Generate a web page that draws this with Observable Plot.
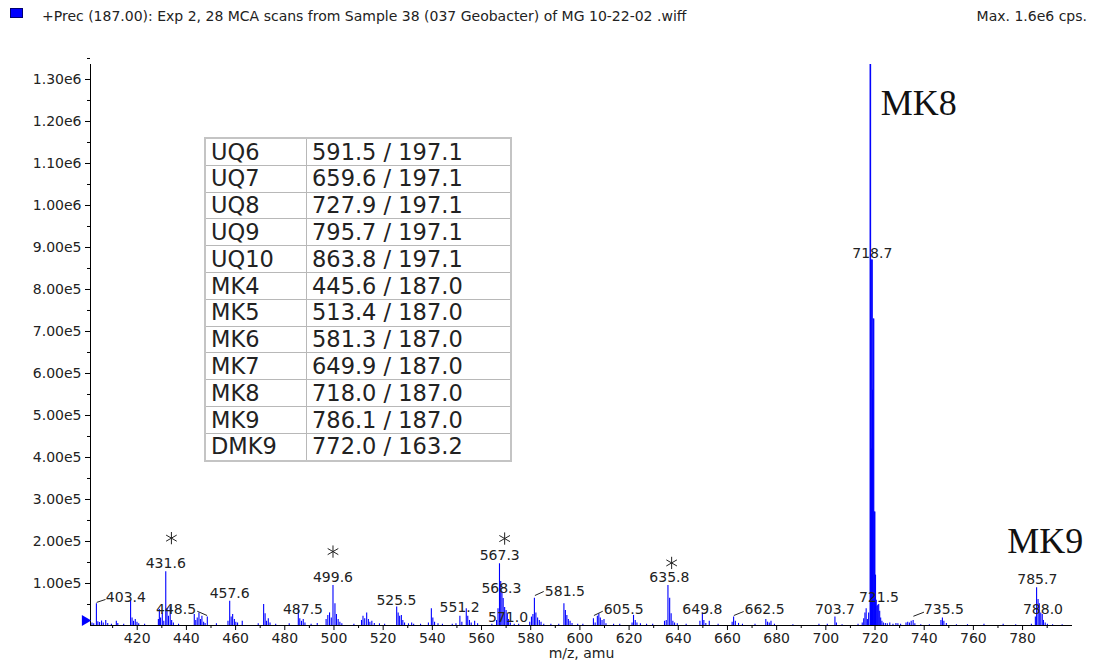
<!DOCTYPE html>
<html>
<head>
<meta charset="utf-8">
<script src="https://cdn.jsdelivr.net/npm/d3@7"></script>
<script src="https://cdn.jsdelivr.net/npm/@observablehq/plot@0.6"></script>
<style>
  body { margin: 0; background: #fff; font-family: "DejaVu Sans", sans-serif; color: #222; }
  #wrap { position: relative; width: 1093px; height: 664px; overflow: hidden; }
  #head { position: absolute; left: 0; top: 0; width: 1093px; height: 30px; font-size: 14px; }
  #swatch { position: absolute; left: 10px; top: 8px; width: 11px; height: 8px; background: #0000ff; border: 1px solid #000070; }
  #title { position: absolute; left: 42px; top: 8px; white-space: nowrap; }
  #max { position: absolute; right: 6px; top: 8px; white-space: nowrap; }
  #chart { position: absolute; left: 0; top: 30px; }
  #mrm { position: absolute; left: 204px; top: 137px; border-collapse: collapse; border: 2px solid #c4c4c4;
         font-size: 22.5px; background: #fff; }
  #mrm td { border: 1px solid #b8b8b8; padding: 0 0 0 5px; height: 25.8px; line-height: 1; white-space: nowrap; }
  #mrm td.c1 { width: 95px; }
  #mrm td.c2 { width: 198px; }
</style>
</head>
<body>
<div id="wrap">
  <div id="head">
    <div id="swatch"></div>
    <div id="title"></div>
    <div id="max"></div>
  </div>
  <div id="chart"></div>
  <table id="mrm"></table>
</div>
<script>
// Experiment header
const headerText = "+Prec (187.00): Exp 2, 28 MCA scans from Sample 38 (037 Geobacter) of MG 10-22-02 .wiff";
const maxText = "Max. 1.6e6 cps.";

// Quinone / menaquinone transitions (precursor / product)
const compounds = ["UQ6", "UQ7", "UQ8", "UQ9", "UQ10", "MK4", "MK5", "MK6", "MK7", "MK8", "MK9", "DMK9"];
const transitions = ["591.5 / 197.1", "659.6 / 197.1", "727.9 / 197.1", "795.7 / 197.1", "863.8 / 197.1",
  "445.6 / 187.0", "513.4 / 187.0", "581.3 / 187.0", "649.9 / 187.0", "718.0 / 187.0", "786.1 / 187.0", "772.0 / 163.2"];

// Spectrum sticks: [m/z, counts per second]
const sticks = [
  [401.6, 6000], [402.3, 4000], [403.4, 52000], [404.0, 9000], [404.7, 7000], [405.5, 11000], [406.2, 6000],
  [407.2, 12000], [408.0, 5000], [409.5, 3000], [411.5, 10000], [412.1, 5000], [414.5, 3000],
  [417.3, 58000], [417.9, 18000], [418.5, 10000], [419.2, 14000], [419.9, 8000], [420.6, 4000], [423.0, 3000],
  [428.6, 14000], [429.0, 38000], [429.5, 18000], [430.2, 30000], [430.8, 10000], [431.6, 128000],
  [432.1, 40000], [432.7, 22000], [433.4, 44000], [434.0, 12000], [434.7, 6000], [436.8, 3000],
  [443.2, 26000], [443.8, 12000], [444.4, 18000], [445.1, 30000], [445.7, 14000], [446.3, 22000],
  [447.0, 8000], [447.6, 5000], [448.5, 20000], [452.2, 4000],
  [456.9, 10000], [457.6, 58000], [458.2, 20000], [458.8, 26000], [459.5, 14000], [460.1, 8000],
  [460.8, 6000], [462.7, 10000], [469.2, 4000],
  [471.4, 50000], [472.0, 28000], [472.6, 10000], [473.3, 16000], [474.0, 6000], [476.3, 3000], [481.8, 4000],
  [485.5, 40000], [486.1, 16000], [486.8, 10000], [487.5, 14000], [488.2, 6000], [490.7, 3000], [493.2, 5000],
  [496.8, 14000], [497.5, 24000], [498.2, 30000], [498.9, 18000], [499.6, 95000], [500.4, 52000],
  [501.0, 26000], [501.7, 14000], [502.4, 8000], [503.2, 4000], [508.1, 3000],
  [511.2, 12000], [511.8, 22000], [512.5, 16000], [513.3, 30000], [514.0, 14000], [514.6, 8000],
  [515.4, 10000], [516.4, 5000], [518.5, 4000], [520.6, 3000],
  [525.5, 44000], [526.1, 30000], [526.7, 22000], [527.4, 24000], [528.0, 12000], [528.7, 6000],
  [530.3, 4000], [531.6, 6000], [532.4, 3000], [535.2, 3000],
  [538.4, 6000], [539.6, 40000], [540.2, 18000], [540.9, 8000], [542.3, 4000], [544.1, 3000],
  [548.1, 3000], [549.6, 4000], [551.2, 22000], [552.0, 8000], [553.8, 40000], [554.4, 22000],
  [555.1, 12000], [555.8, 6000], [557.2, 10000], [558.4, 4000], [564.2, 3000],
  [566.1, 12000], [566.7, 40000], [567.3, 147000], [567.8, 105000], [568.3, 80000], [568.8, 64000],
  [569.4, 43000], [570.0, 36000], [570.5, 28000], [571.0, 14000], [571.7, 6000], [573.3, 3000], [575.1, 3000],
  [579.6, 8000], [580.3, 20000], [580.9, 26000], [581.5, 65000], [582.1, 30000], [582.8, 18000],
  [583.5, 12000], [584.2, 8000], [585.3, 3000], [588.2, 3000], [591.4, 3000],
  [593.5, 52000], [594.1, 36000], [594.7, 24000], [595.3, 14000], [596.0, 10000], [596.8, 5000],
  [599.1, 3000], [601.2, 3000],
  [605.5, 16000], [606.2, 6000], [607.1, 22000], [607.7, 28000], [608.3, 18000], [609.0, 12000],
  [609.8, 14000], [610.6, 4000], [613.7, 3000], [616.2, 3000],
  [621.2, 6000], [621.8, 24000], [622.5, 12000], [623.2, 6000], [624.6, 4000], [627.1, 3000], [629.6, 3000],
  [634.4, 10000], [635.1, 12000], [635.8, 95000], [636.5, 65000], [637.1, 28000], [637.8, 10000],
  [638.5, 6000], [639.6, 4000], [643.2, 3000],
  [648.8, 10000], [649.8, 30000], [650.4, 12000], [651.2, 5000], [652.6, 10000], [656.2, 3000],
  [661.9, 8000], [662.5, 20000], [663.2, 10000], [664.5, 5000], [666.1, 3000], [671.2, 3000],
  [675.6, 14000], [676.3, 8000], [677.0, 6000], [677.7, 10000], [679.1, 3000], [686.6, 2000],
  [697.2, 3000], [700.6, 3000], [703.7, 20000], [704.3, 6000], [706.6, 2000], [713.1, 3000],
  [714.8, 6000], [715.4, 16000], [715.9, 30000], [716.4, 40000], [716.9, 14000], [717.4, 30000],
  [718.0, 1600000], [718.2, 1600000], [718.4, 870000], [718.55, 420000], [718.7, 870000], [718.85, 870000],
  [719.0, 560000], [719.3, 730000], [719.5, 730000], [719.75, 270000], [719.95, 270000],
  [720.2, 120000], [720.5, 60000], [720.8, 45000], [721.1, 48000], [721.5, 50000], [721.9, 34000],
  [722.3, 18000], [722.8, 10000], [723.4, 6000], [724.2, 5000], [725.0, 4000], [726.0, 6000],
  [727.3, 3000], [728.5, 5000], [729.3, 4000], [730.4, 3000],
  [732.6, 6000], [733.3, 8000], [734.0, 6000], [734.7, 10000], [735.5, 12000], [736.2, 4000],
  [738.6, 2000], [742.1, 2000], [746.8, 12000], [747.4, 18000], [748.0, 10000], [749.0, 5000],
  [753.1, 2000], [757.6, 2000], [764.3, 3000], [772.1, 3000], [777.2, 2000], [783.6, 3000],
  [785.2, 20000], [785.7, 90000], [786.3, 62000], [786.8, 52000], [787.4, 30000], [788.0, 26000],
  [788.5, 12000], [789.2, 6000], [790.1, 3000], [792.2, 2000], [796.1, 2000]
];

// Labelled peak centroids
const labelledPeaks = [403.4, 431.6, 448.5, 457.6, 487.5, 499.6, 525.5, 551.2, 567.3, 568.3, 571.0,
  581.5, 605.5, 635.8, 649.8, 662.5, 703.7, 718.7, 721.5, 735.5, 785.7, 788.0];

// Peaks marked with an asterisk
const starredPeaks = [431.6, 499.6, 567.3, 635.8];

// Axis ticks
const xMajor = d3.range(420, 781, 20);
const xMinor = d3.range(410, 791, 10).filter(v => v % 20 !== 0);
const yMajor = d3.range(1, 14).map(k => k * 1e5);
const yMinor = d3.range(0, 14).map(k => k * 1e5 + 5e4);

// Where each peak label sits (label centre in m/z, counts) and optional leader line start/end
const labelPlace = {
  "403.4": {x: 415.4, y: 66000, lead: [403.5, 55000, 407.1, 62000]},
  "431.6": {x: 431.6, y: 148000},
  "448.5": {x: 435.8, y: 37400, lead: [444.4, 34000, 448.4, 23800]},
  "457.6": {x: 457.6, y: 77000},
  "487.5": {x: 487.4, y: 37400},
  "499.6": {x: 499.6, y: 113600},
  "525.5": {x: 525.4, y: 59500},
  "551.2": {x: 551.1, y: 42000},
  "567.3": {x: 567.4, y: 166700},
  "568.3": {x: 568.1, y: 87400},
  "571.0": {x: 570.8, y: 19800},
  "581.5": {x: 593.9, y: 81700, lead: [581.7, 71400, 585.3, 81000]},
  "605.5": {x: 617.8, y: 37400, lead: [605.7, 23800, 609.3, 34000]},
  "635.8": {x: 636.4, y: 115000},
  "649.8": {x: 649.8, y: 37400},
  "662.5": {x: 675.1, y: 37400, lead: [662.6, 23800, 666.6, 33300]},
  "703.7": {x: 703.7, y: 37400},
  "718.7": {x: 718.9, y: 886000},
  "721.5": {x: 721.6, y: 67400},
  "735.5": {x: 748.0, y: 37400, lead: [735.6, 22000, 739.9, 31700]},
  "785.7": {x: 786.0, y: 109500},
  "788.0": {x: 788.3, y: 37400}
};
const starPlace = {"431.6": [433.9, 208000], "499.6": [499.6, 176000], "567.3": [569.4, 207000], "635.8": [637.3, 149000]};
const annotations = [
  {text: "MK8", x: 722.3, y: 1244000},
  {text: "MK9", x: 773.8, y: 199500}
];

const labelRows = labelledPeaks.map(p => ({t: p.toFixed(1), ...labelPlace[p.toFixed(1)]}));
const leaders = labelRows.filter(d => d.lead).map(d => d.lead);
const stars = starredPeaks.map(p => starPlace[p.toFixed(1)]);

document.getElementById("title").textContent = headerText;
document.getElementById("max").textContent = maxText;

const table = document.getElementById("mrm");
compounds.forEach((c, i) => {
  const tr = table.insertRow();
  const a = tr.insertCell(); a.className = "c1"; a.textContent = c;
  const b = tr.insertCell(); b.className = "c2"; b.textContent = transitions[i];
});

const yFmt = v => d3.format(".2e")(v).replace("+", "");

const chart = Plot.plot({
  width: 1093,
  height: 634,
  marginTop: 34,
  marginBottom: 39,
  marginLeft: 90,
  marginRight: 21,
  style: {fontFamily: "DejaVu Sans, sans-serif", fontSize: "14px", color: "#222", background: "transparent"},
  x: {domain: [401, 800.3]},
  y: {domain: [0, 1335700]},
  marks: [
    Plot.ruleX(sticks, {x: d => d[0], y1: 0, y2: d => d[1], stroke: "#0000ff", strokeWidth: 1.1, clip: true}),
    Plot.ruleX([401], {stroke: "#000"}),
    Plot.ruleY([0], {stroke: "#000"}),
    Plot.axisX(xMajor, {tickSize: 5, tickPadding: 3, fontSize: 14, label: null, stroke: "#000"}),
    Plot.axisX(xMinor, {tickSize: 3, fill: "none", label: null, stroke: "#000"}),
    Plot.axisY(yMajor, {tickSize: 5, tickPadding: 4, fontSize: 14, tickFormat: yFmt, label: null, stroke: "#000"}),
    Plot.axisY(yMinor, {tickSize: 3, fill: "none", label: null, stroke: "#000"}),
    Plot.text(["m/z, amu"], {frameAnchor: "bottom", dy: 32, fontSize: 14, fill: "#222"}),
    Plot.dot([401], {x: d => d, y: 0, symbol: "triangle", rotate: 90, r: 4, fill: "#0000ff", stroke: "none", dx: -5.5, dy: -5}),
    Plot.link(leaders, {x1: d => d[0], y1: d => d[1], x2: d => d[2], y2: d => d[3], stroke: "#222", strokeWidth: 1}),
    Plot.text(labelRows, {x: "x", y: "y", text: "t", fontSize: 14, fill: "#222"}),
    Plot.dot(stars, {x: d => d[0], y: d => d[1], symbol: "asterisk", r: 5.8, stroke: "#222", strokeWidth: 1}),
    Plot.text(annotations, {x: "x", y: "y", text: "text", textAnchor: "start", fontSize: 36,
      fontFamily: "Liberation Serif, serif", fill: "#111"})
  ]
});
document.getElementById("chart").appendChild(chart);
</script>
</body>
</html>
